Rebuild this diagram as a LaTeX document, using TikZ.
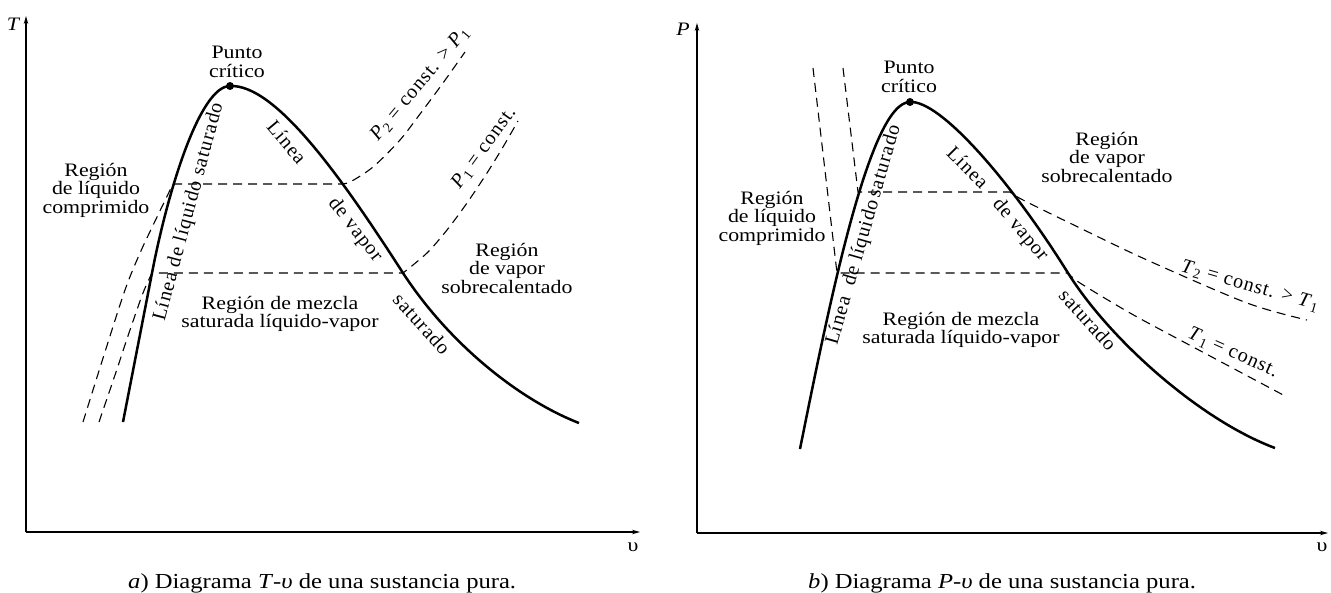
\documentclass[tikz,border=0pt]{standalone}
\usepackage{fontspec}
\setmainfont{Liberation Serif}[FakeStretch=1.15]
\newfontfamily\rotfont{Liberation Serif}[LetterSpace=5]
\usetikzlibrary{arrows.meta}
\newcommand\sbs[1]{\textsubscript{#1}}
\tikzset{
  sat/.style={line width=2.5pt},
  dsh/.style={line width=1.1pt, dash pattern=on 9pt off 6pt},
  axis/.style={line width=1.2pt, -{Stealth[length=8pt,width=4.5pt]}},
  lbl/.style={font=\fontsize{19}{18.5}\selectfont, align=center, inner sep=0pt},
  rlbl/.style={font=\rotfont\fontsize{20}{19}\selectfont, inner sep=0pt},
  capt/.style={font=\fontsize{21.4}{24}\selectfont, inner sep=0pt, anchor=base west},
}
\begin{document}
\begin{tikzpicture}[x=1pt,y=-1pt]
\useasboundingbox (0,0) rectangle (1331,592);
% ---------------- left panel: T-v ----------------
\coordinate (oa) at (26,532);
\coordinate (ta) at (26,16);
\coordinate (va) at (640,532);
\draw[axis] (oa) -- (ta);
\draw[axis] (oa) -- (va);
\node[lbl, font=\fontsize{19}{19}\selectfont\itshape] (Tlab) at (13,24) {T};
\node[lbl] (vlaba) at (633,547) {υ};
% dome
\coordinate (cpa) at (230,86);
\coordinate (la1) at (152,273);
\coordinate (ra1) at (403,273);
\draw[sat] (123,422) -- (la1) .. controls (168,190) and (200,86) .. (cpa)
  .. controls (275,84) and (340,175) .. (ra1)
  .. controls (450,345) and (520,400) .. (579,423);
\fill (cpa) circle[radius=4pt];
% isobars
\draw[dsh] plot[smooth] coordinates {(83,422) (104,355) (125,290) (140,253) (157,217) (173,184)} -- plot[smooth] coordinates {(340,184) (350,182) (373,167) (400,140) (423,110) (443,83) (465,52)};
\draw[dsh] plot[smooth] coordinates {(99,422) (115,375) (130,330) (143,293) (152,273)} -- plot[smooth] coordinates {(403,273) (427,253) (447,230) (467,203) (487,173) (503,147) (518,121)};
% labels
\node[lbl] (pca) at (237,62) {Punto\\crítico};
\node[lbl] (rlca) at (96,190) {Región\\de líquido\\comprimido};
\node[lbl] (rma) at (280,314) {Región de mezcla\\saturada líquido-vapor};
\node[lbl] (rva) at (507,268) {Región\\de vapor\\sobrecalentado};
\node[rlbl, rotate=75] (lla) at (189,212) {Línea de líquido saturado};
\node[rlbl, rotate=-50] (lv1a) at (287,142) {Línea};
\node[rlbl, rotate=-52] (lv2a) at (355,230) {de vapor};
\node[rlbl, rotate=-48] (lv3a) at (422,324) {saturado};
\node[rlbl, rotate=50] (p2a) at (420,84) {\textit{P}\sbs{2} = const. > \textit{P}\sbs{1}};
\node[rlbl, rotate=54] (p1a) at (484,148) {\textit{P}\sbs{1} = const.};
\node[capt] (capa) at (128,588) {\textit{a}) Diagrama \textit{T}-\textit{υ} de una sustancia pura.};
% ---------------- right panel: P-v ----------------
\coordinate (ob) at (697,533);
\coordinate (pb) at (697,23);
\coordinate (vb) at (1328,533);
\draw[axis] (ob) -- (pb);
\draw[axis] (ob) -- (vb);
\node[lbl, font=\fontsize{19}{19}\selectfont\itshape] (Plab) at (683,29) {P};
\node[lbl] (vlabb) at (1322,547) {υ};
\coordinate (cpb) at (910,102);
\coordinate (rb1) at (1068,273);
\draw[sat] (800,449) .. controls (830,300) and (870,102) .. (cpb)
  .. controls (940,100) and (1010,180) .. (rb1)
  .. controls (1110,340) and (1200,420) .. (1275,448);
\fill (cpb) circle[radius=4pt];
% isotherms
\draw[dsh] (843,68) -- (858,192) -- plot[smooth] coordinates {(1010,192) (1023,200) (1080,228) (1147,260) (1247,303) (1307,320)};
\draw[dsh] (813,68) -- (837,273) -- plot[smooth] coordinates {(1068,273) (1080,283) (1130,313) (1180,340) (1287,397)};
% labels
\node[lbl] (pcb) at (909,77) {Punto\\crítico};
\node[lbl] (rlcb) at (772,218) {Región\\de líquido\\comprimido};
\node[lbl] (rmb) at (961,330) {Región de mezcla\\saturada líquido-vapor};
\node[lbl] (rvb) at (1107,157) {Región\\de vapor\\sobrecalentado};
\node[rlbl, rotate=74] (llb) at (864,235) {Línea\hspace{6pt} de líquido\hspace{-3pt} saturado};
\node[rlbl, rotate=-45] (lv1b) at (968,167) {Línea};
\node[rlbl, rotate=-50] (lv2b) at (1020,230) {de vapor};
\node[rlbl, rotate=-48] (lv3b) at (1088,320) {saturado};
\node[rlbl, rotate=-16] (t2b) at (1250,286) {\textit{T}\sbs{2} = const. > \textit{T}\sbs{1}};
\node[rlbl, rotate=-24] (t1b) at (1233,353) {\textit{T}\sbs{1} = const.};
\node[capt] (capb) at (808,588) {\textit{b}) Diagrama \textit{P}-\textit{υ} de una sustancia pura.};
\end{tikzpicture}
\end{document}
